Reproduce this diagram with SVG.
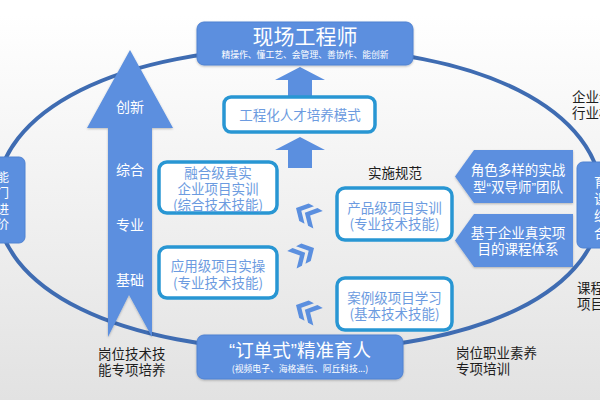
<svg xmlns="http://www.w3.org/2000/svg" width="600" height="400" viewBox="0 0 600 400">
<defs>
<linearGradient id="bg" x1="0" y1="0" x2="0" y2="1">
<stop offset="0" stop-color="#ffffff"/>
<stop offset="1" stop-color="#e2e2e2"/>
</linearGradient>
<filter id="sh" x="-10%" y="-10%" width="120%" height="130%">
<feDropShadow dx="0" dy="1" stdDeviation="1" flood-color="#000" flood-opacity="0.25"/>
</filter>
<g id="chev">
<polygon points="0,0 9,-10 15,-10 6,0 15,10 9,10"/>
<polygon points="10,0 19,-10 25,-10 16,0 25,10 19,10"/>
</g>
</defs>
<style>
text{font-family:"Noto Sans CJK SC","Noto Sans",sans-serif}
.q{font-family:"Liberation Sans",sans-serif}
.blue{fill:#5b8fdf}
.bbox{fill:#5b8fdf;stroke:#4f82d2;stroke-width:1}
.wbox{fill:#ffffff;stroke:#2896d3;stroke-width:3.5}
.wt{fill:#ffffff}
.bt{fill:#6c9be0;font-size:13.5px;text-anchor:middle}
.dk{fill:#1e1e1e;font-size:13.5px}
.mid{text-anchor:middle}
</style>
<rect x="0" y="0" width="600" height="400" fill="#ffffff"/>
<rect x="0" y="15" width="600" height="385" fill="url(#bg)"/>

<g id="connectors">
<path d="M300,48 C480,48 602,110 602,200 C602,290 480,350 300,350 C120,350 -4,290 -4,200 C-4,110 120,48 300,48 Z" fill="none" stroke="#3f6cb2" stroke-width="4"/>
<polygon class="blue" points="300,67 325,80 312,80 312,97 288,97 288,80 275,80"/>
<polygon class="blue" points="300,137 325,150 312,150 312,168 288,168 288,150 275,150"/>
<g class="blue">
<use href="#chev" transform="translate(296,208) rotate(28)"/>
<use href="#chev" transform="translate(314,248) rotate(-28) scale(-1,1)"/>
<use href="#chev" transform="translate(296,305) rotate(28)"/>
</g>
</g>

<g id="big-arrow">
<polygon class="blue" filter="url(#sh)" points="130,50 173,128 152,128 152,337 129,295 108,337 108,128 87,128"/>
<text class="wt mid" x="130" y="112" font-size="14">创新</text>
<text class="wt mid" x="130" y="175" font-size="14">综合</text>
<text class="wt mid" x="130" y="230" font-size="14">专业</text>
<text class="wt mid" x="130" y="285" font-size="14">基础</text>
</g>

<g id="top-node">
<rect class="bbox" filter="url(#sh)" x="197" y="22" width="216" height="43" rx="7"/>
<text class="wt mid" x="305" y="44" font-size="21">现场工程师</text>
<text class="wt mid" x="305" y="58" font-size="8.8">精操作、懂工艺、会管理、善协作、能创新</text>
</g>

<g id="mode-node">
<rect class="wbox" x="224" y="97" width="151" height="35" rx="7"/>
<text class="bt" x="300" y="120" font-size="14">工程化人才培养模式</text>
</g>

<g id="fusion-node">
<rect class="wbox" x="159" y="162" width="118" height="51" rx="8"/>
<text class="bt" x="218" y="178">融合级真实</text>
<text class="bt" x="218" y="194">企业项目实训</text>
<text class="bt" x="218" y="210">(综合技术技能)</text>
</g>

<g id="apply-node">
<rect class="wbox" x="159" y="247" width="118" height="51" rx="8"/>
<text class="bt" x="218" y="271">应用级项目实操</text>
<text class="bt" x="218" y="288">(专业技术技能)</text>
</g>

<g id="product-node">
<rect class="wbox" x="337" y="188" width="115" height="52" rx="8"/>
<text class="bt" x="394.5" y="213">产品级项目实训</text>
<text class="bt" x="394.5" y="229">(专业技术技能)</text>
</g>

<g id="case-node">
<rect class="wbox" x="337" y="278" width="115" height="52" rx="8"/>
<text class="bt" x="394.5" y="303">案例级项目学习</text>
<text class="bt" x="394.5" y="319">(基本技术技能)</text>
</g>

<g id="bottom-node">
<rect class="bbox" filter="url(#sh)" x="197" y="335" width="206" height="44" rx="7"/>
<text class="wt mid" x="300" y="357" font-size="18.5"><tspan class="q">“</tspan>订单式<tspan class="q">”</tspan>精准育人</text>
<text class="wt mid" x="300" y="372" font-size="8.8">(视频电子、海格通信、阿丘科技...)</text>
</g>

<g id="team-node">
<polygon class="blue" filter="url(#sh)" points="474,150 573,150 573,203 474,203 455,176.5"/>
<text class="wt mid" x="518" y="175" font-size="13.5">角色多样的实战</text>
<text class="wt mid" x="518" y="192" font-size="13.5">型<tspan class="q">“</tspan>双导师<tspan class="q">”</tspan>团队</text>
</g>

<g id="course-node">
<polygon class="blue" filter="url(#sh)" points="474,214 573,214 573,267 474,267 455,240.5"/>
<text class="wt mid" x="518" y="238" font-size="13.5">基于企业真实项</text>
<text class="wt mid" x="518" y="254" font-size="13.5">目的课程体系</text>
</g>

<g id="left-node">
<rect class="bbox" x="-12" y="157" width="37" height="86" rx="6"/>
<g class="wt" font-size="12.5" text-anchor="end">
<text x="9" y="182">能</text>
<text x="9" y="198">门</text>
<text x="9" y="214">进</text>
<text x="9" y="229">价</text>
</g>
</g>

<g id="right-node">
<rect class="bbox" x="577" y="162" width="37" height="86" rx="6"/>
<g class="wt" font-size="13.5">
<text x="594" y="187">育</text>
<text x="594" y="204">课</text>
<text x="594" y="221">综</text>
<text x="594" y="238">合</text>
</g>
</g>

<g id="labels">
<text class="dk" x="368" y="178">实施规范</text>
<text class="dk" x="98" y="359">岗位技术技</text>
<text class="dk" x="98" y="375">能专项培养</text>
<text class="dk" x="456" y="358">岗位职业素养</text>
<text class="dk" x="456" y="374">专项培训</text>
<text class="dk" x="572" y="102" font-size="14">企业参</text>
<text class="dk" x="572" y="118" font-size="14">行业标</text>
<text class="dk" x="577" y="293" font-size="14">课程</text>
<text class="dk" x="577" y="309" font-size="14">项目</text>
</g>
</svg>
